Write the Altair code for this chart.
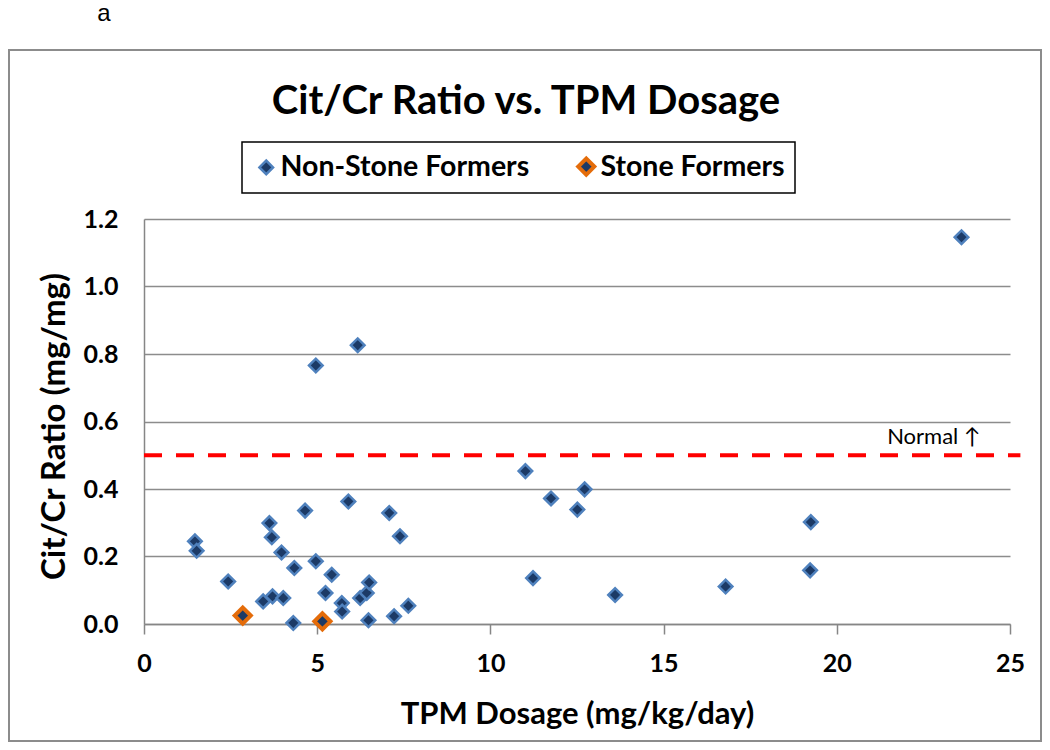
import altair as alt
import pandas as pd

# ---- data ----
non_dose = [1.47, 1.52, 2.43, 3.44, 3.62, 3.69, 3.71, 3.97, 4.02, 4.31,
            4.34, 4.65, 4.96, 4.96, 5.24, 5.42, 5.71, 5.72, 5.90, 6.17,
            6.24, 6.43, 6.48, 6.50, 7.08, 7.22, 7.39, 7.63, 11.01, 11.23,
            11.75, 12.51, 12.72, 13.60, 16.79, 19.23, 19.25, 23.60]
non_ratio = [0.245, 0.217, 0.126, 0.067, 0.299, 0.257, 0.082, 0.212, 0.077, 0.003,
             0.166, 0.336, 0.186, 0.766, 0.092, 0.146, 0.062, 0.037, 0.363, 0.826,
             0.077, 0.092, 0.011, 0.123, 0.329, 0.023, 0.260, 0.054, 0.453, 0.136,
             0.372, 0.339, 0.399, 0.086, 0.111, 0.159, 0.302, 1.146]
stone_dose = [2.85, 5.15]
stone_ratio = [0.025, 0.008]

groups = ["Non-Stone Formers", "Stone Formers"]
x_ticks = [0, 5, 10, 15, 20, 25]
y_ticks = [0.0, 0.2, 0.4, 0.6, 0.8, 1.0, 1.2]
normal_level = [0.5]
normal_span = [0, 25.3]
normal_label = ["Normal \u2191"]
normal_label_x = [22.8]
panel_label = ["a"]

NAVY = "#1C3A66"
BLUE_EDGE = "#4F81BD"
ORANGE = "#E46C0A"
GRID = "#8C8C8C"
FONT = "Lato"

pts = pd.concat([
    pd.DataFrame({"dose": non_dose, "ratio": non_ratio, "group": groups[0]}),
    pd.DataFrame({"dose": stone_dose, "ratio": stone_ratio, "group": groups[1]}),
], ignore_index=True)

x_scale = alt.Scale(domain=[0, 25], nice=False, zero=True)
y_scale = alt.Scale(domain=[0, 1.2], nice=False, zero=True)

x_axis = alt.Axis(values=x_ticks, title="TPM Dosage (mg/kg/day)", grid=False,
                  labelFlush=False, labelOverlap=False,
                  tickSize=10, labelPadding=17,
                  titleX=433, titleY=99, titleBaseline="alphabetic")
y_axis = alt.Axis(values=y_ticks, format=".1f", title="Cit/Cr Ratio (mg/mg)",
                  grid=True, ticks=False, labelPadding=26, titleFontSize=33,
                  titleX=-80, titleY=207, titleBaseline="alphabetic")

leg = alt.Legend(title=None, orient="none", legendX=98, legendY=-77,
                 direction="horizontal", symbolType="diamond",
                 labelFont=FONT, labelFontSize=28.5, labelFontWeight="bold",
                 labelLimit=500, labelOffset=0, columnPadding=40,
                 padding=10, strokeColor="black")

frame = alt.Chart(pd.DataFrame({"k": [1]})).mark_rect(
    fill=None, stroke="#8C8C8C", strokeWidth=2, clip=False
).encode(x=alt.value(-135), x2=alt.value(897), y=alt.value(-169), y2=alt.value(522))

label_a = alt.Chart(pd.DataFrame({"t": panel_label})).mark_text(
    font="Liberation Sans", fontSize=24, align="center", baseline="alphabetic", clip=False
).encode(text="t:N", x=alt.value(-40), y=alt.value(-198))

points = alt.Chart(pts).mark_point(
    shape="diamond", filled=True, fill=NAVY, opacity=1
).encode(
    x=alt.X("dose:Q", scale=x_scale, axis=x_axis),
    y=alt.Y("ratio:Q", scale=y_scale, axis=y_axis),
    stroke=alt.Stroke("group:N", scale=alt.Scale(domain=groups, range=[BLUE_EDGE, ORANGE]), legend=leg),
    strokeWidth=alt.StrokeWidth("group:N", scale=alt.Scale(domain=groups, range=[2.5, 4]), legend=leg),
    size=alt.Size("group:N", scale=alt.Scale(domain=groups, range=[185, 260]), legend=leg),
)

rule = alt.Chart(pd.DataFrame({"x": [normal_span[0]], "x2": [normal_span[1]], "y": normal_level})).mark_rule(
    color="#FF0000", strokeWidth=4, strokeDash=[18, 14], clip=False
).encode(x=alt.X("x:Q", scale=x_scale), x2="x2:Q", y=alt.Y("y:Q", scale=y_scale))

normal_txt = alt.Chart(pd.DataFrame({"x": normal_label_x, "y": normal_level, "t": normal_label})).mark_text(
    font=FONT, fontSize=22, align="center", baseline="alphabetic", dy=-11, color="black"
).encode(x=alt.X("x:Q", scale=x_scale), y=alt.Y("y:Q", scale=y_scale), text="t:N")

chart = alt.layer(frame, points, rule, normal_txt, label_a).properties(
    width=866, height=405,
    autosize=alt.AutoSizeParams(type="none"),
    padding={"left": 136, "top": 211, "right": 32, "bottom": 118},
    title=alt.TitleParams("Cit/Cr Ratio vs. TPM Dosage", font=FONT, fontSize=40,
                          fontWeight="bold", anchor="middle", frame="group",
                          baseline="alphabetic", dx=-51, dy=152, offset=0, color="black"),
).configure_view(stroke=None).configure_axis(
    domainColor="#868686", domainWidth=1.5, tickColor="#868686", tickWidth=1.5,
    gridColor=GRID, gridWidth=1.5,
    labelFont=FONT, labelFontSize=25, labelFontWeight="bold", labelColor="black",
    titleFont=FONT, titleFontSize=31, titleFontWeight="bold", titleColor="black",
).configure_legend(strokeWidth=1.5, symbolFillColor=NAVY)

chart.save("out.html", embed_options={"renderer": "svg", "actions": False})
